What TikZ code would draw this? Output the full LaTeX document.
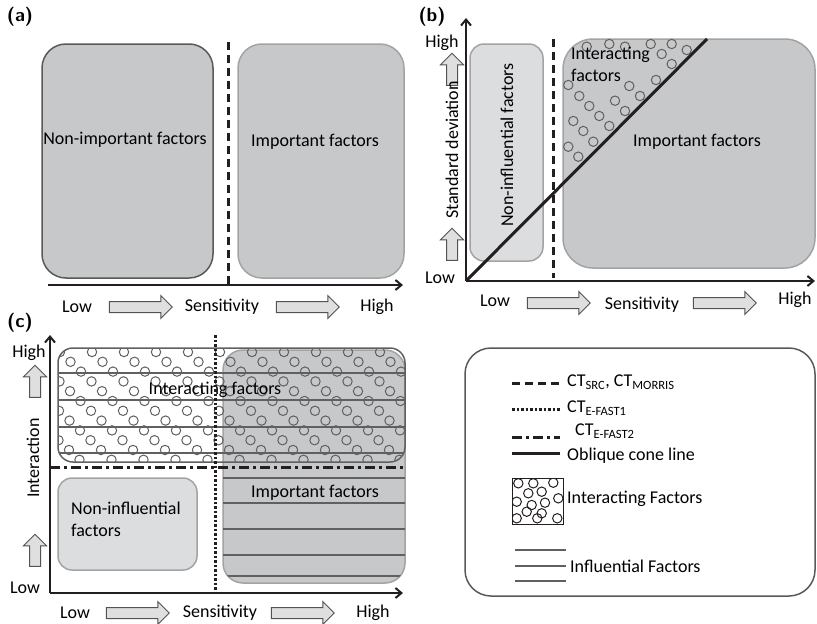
\documentclass[tikz,border=0pt]{standalone}
\usepackage{fontspec}
\setmainfont{Carlito}
\usetikzlibrary{arrows.meta,positioning,shapes.arrows}

\definecolor{boxdark}{HTML}{C7C8CA}
\definecolor{boxlight}{HTML}{DCDDDF}
\definecolor{edgegray}{HTML}{A3A3A5}
\definecolor{ink}{HTML}{231F20}

\begin{document}
\begin{tikzpicture}[
x=1pt,y=-1pt,
font=\fontsize{18}{22}\selectfont,
>={Straight Barb[length=6pt,width=10pt]},
axis/.style={
	->,
	line width=2pt,
	draw=ink
},
region/.style={
	draw=edgegray,
	fill=boxdark,
	line width=1.5pt,
	rounded corners=24pt,
	inner sep=0pt
},
lightregion/.style={
	region,
	fill=boxlight,
	rounded corners=14pt
},
blockarrow/.style={
	single arrow,
	draw=gray!65!black,
	fill=gray!25,
	line width=1pt,
	minimum height=63pt,
	inner sep=5pt,
	single arrow head extend=6pt
},
uparrow/.style={
	blockarrow,
	minimum height=32pt,
	shape border rotate=90
},
ring/.style={
	draw=gray!75!black,
	line width=1pt
},
hatch/.style={
	draw=gray!75!black,
	line width=1.2pt
},
sens/.style={
	dash pattern=on 8pt off 5pt,
	line width=3pt,
	draw=ink
},
efast1/.style={
	line width=3pt,
	dash pattern=on 2.5pt off 2pt,
	draw=ink
},
efast2/.style={
	line width=3pt,
	dash pattern=on 10pt off 4pt on 3pt off 4pt,
	draw=ink
},
cone/.style={
	line width=3pt,
	draw=ink
},
panel/.style={
	font=\fontsize{19}{22}\selectfont\sffamily\bfseries
}
]
\useasboundingbox (0,0) rectangle (817,624);

%% (a)
\node[panel] (tagA) at (20,17) {(a)};
\node[region,draw=gray!70!black,minimum width=171pt,minimum height=234pt] (aLow) at (127.5,161) {};
\node[region,minimum width=166pt,minimum height=234pt] (aHigh) at (321,161) {};
\node (aLowText) at (125,140) {Non-important factors};
\node (aHighText) at (315,142) {Important factors};
\coordinate (aO) at (48,285);
\coordinate (aX) at (403,285);
\coordinate (aCutTop) at (228,42);
\coordinate (aCutBot) at (228,285);
\draw[sens] (aCutTop) -- (aCutBot);
\draw[axis] (aO) -- (aX);
\node (aL) at (77,307) {Low};
\node[blockarrow] (aA1) at (138,307) {};
\node (aS) at (222,307) {Sensitivity};
\node[blockarrow] (aA2) at (305,307) {};
\node (aH) at (377,307) {High};

%% (b)
\node[panel] (tagB) at (432,17) {(b)};
\node[lightregion,minimum width=73pt,minimum height=217pt] (bLow) at (506.5,152.5) {};
\node[region,minimum width=252pt,minimum height=229pt,rounded corners=30pt] (bHigh) at (689,153.5) {};
\foreach \cx/\cy in {586.7/46.7,609.3/44,625/46.7,650.7/44,671.7/44,661.7/54,686.7/50,
	671.7/64,656/80,629.3/86,640/96,568.3/85,579.3/96,589.3/106,615/100.7,625/111,
	599.3/116,609.3/126,573.3/121,583.3/131,593.3/141.7,568.3/146.7,578.3/156.7}
\draw[ring] (\cx,\cy) circle[radius=4.7pt];
\node[align=left,anchor=north west,inner sep=0pt] (bInter) at (571,47) {Interacting\\factors};
\node (bHighText) at (697,142) {Important factors};
\node[rotate=90] (bLowText) at (507,145) {Non-influential factors};
\coordinate (bO) at (466,281);
\coordinate (bX) at (815,281);
\coordinate (bY) at (466,18);
\coordinate (bConeEnd) at (707,39);
\coordinate (bCutTop) at (553,39);
\coordinate (bCutBot) at (553,278);
\draw[sens] (bCutTop) -- (bCutBot);
\draw[cone] (bO) -- (bConeEnd);
\draw[axis] (bO) -- (bX);
\draw[axis] (bO) -- (bY);
\node (bYH) at (442,43) {High};
\node[uparrow] (bYA1) at (452,72) {};
\node[rotate=90] (bYS) at (452,150) {Standard deviation};
\node[uparrow] (bYA2) at (452,247) {};
\node (bYL) at (440,278) {Low};
\node (bL) at (495,301) {Low};
\node[blockarrow] (bA1) at (556,303) {};
\node (bS) at (642,305) {Sensitivity};
\node[blockarrow] (bA2) at (722,303) {};
\node (bH) at (795,300) {High};

%% (c)
\node[panel] (tagC) at (20,323) {(c)};
\node[region,minimum width=182pt,minimum height=233pt,rounded corners=20pt] (cHigh) at (314,466.5) {};
\begin{scope}
\clip[rounded corners=20pt] (223,350) rectangle (405,583);
\foreach \hy in {478,503,529,555,576}
\draw[hatch] (223,\hy) -- (405,\hy);
\end{scope}
\begin{scope}
\clip[rounded corners=15pt] (58,348) rectangle (405,462);
\foreach \hy in {373,400,427,453}
\draw[hatch] (58,\hy) -- (405,\hy);
\foreach \j in {0,...,11}
\foreach \i in {-4,...,11}
\draw[ring] ({60+32*\i+10.5*\j},{352+9.8*\j}) circle[radius=4.7pt];
\end{scope}
\node[draw=gray!75!black,line width=1.5pt,rounded corners=15pt,minimum width=347pt,minimum height=114pt,inner sep=0pt] (cInter) at (231.5,405) {};
\node (cInterText) at (215,390) {Interacting factors};
\node[lightregion,minimum width=139pt,minimum height=92pt] (cLow) at (127.5,524) {};
\node[align=left] (cLowText) at (126,519) {Non-influential\\factors};
\node (cHighText) at (315,493) {Important factors};
\coordinate (cO) at (50,593);
\coordinate (cX) at (403,593);
\coordinate (cY) at (50,335);
\coordinate (cCutTop) at (215,335);
\coordinate (cCutBot) at (215,593);
\coordinate (cIntL) at (50,467);
\coordinate (cIntR) at (405,467);
\draw[efast1] (cCutTop) -- (cCutBot);
\draw[efast2] (cIntL) -- (cIntR);
\draw[axis] (cO) -- (cX);
\draw[axis] (cO) -- (cY);
\node (cYH) at (29,353) {High};
\node[uparrow] (cYA1) at (35,384) {};
\node[rotate=90] (cYS) at (33,458) {Interaction};
\node[uparrow] (cYA2) at (35,553) {};
\node (cYL) at (25,588) {Low};
\node (cL) at (75,613) {Low};
\node[blockarrow] (cA1) at (135,613) {};
\node (cS) at (220,613) {Sensitivity};
\node[blockarrow] (cA2) at (300,613) {};
\node (cH) at (373,613) {High};

%% legend
\node[draw=gray!70!black,line width=1.5pt,rounded corners=26pt,minimum width=350pt,minimum height=248pt,inner sep=0pt] (legend) at (640,472) {};
\foreach \y/\ty/\s/\l in {383/382/sens/{CT\textsubscript{SRC}, CT\textsubscript{MORRIS}},
	409/408/efast1/{CT\textsubscript{E-FAST1}},
	437/431/efast2/{\hspace{8pt}CT\textsubscript{E-FAST2}},
	453/456/cone/{Oblique cone line}}
{
\coordinate (k\y) at (512,\y);
\coordinate (kk\y) at (560,\y);
\draw[\s] (k\y) -- (kk\y);
\node[anchor=west,inner sep=0pt] (t\y) at (567,\ty) {\l};
}
\begin{scope}
\clip (512,478) rectangle (563,524);
\foreach \cx/\cy in {518.3/483.3,533.3/483.3,553.3/482.7,528.3/493.3,541.7/491.7,558.3/498.3,
	516.7/501.7,531.7/505,545/502.7,516.7/518.3,537.3/518.3,557.3/518.3,526.7/511.7,541.7/513.3}
\draw[ring,draw=ink] (\cx,\cy) circle[radius=4.7pt];
\end{scope}
\node[draw=ink,line width=1pt,minimum width=51pt,minimum height=46pt,inner sep=0pt] (kInter) at (537.5,501) {};
\node[anchor=west,inner sep=0pt] (tInter) at (567,499) {Interacting Factors};
\foreach \y in {550,566,581}
\draw[hatch] (515,\y) -- (566,\y);
\node[anchor=west,inner sep=0pt] (tInfl) at (570,566) {Influential Factors};
\end{tikzpicture}
\end{document}
